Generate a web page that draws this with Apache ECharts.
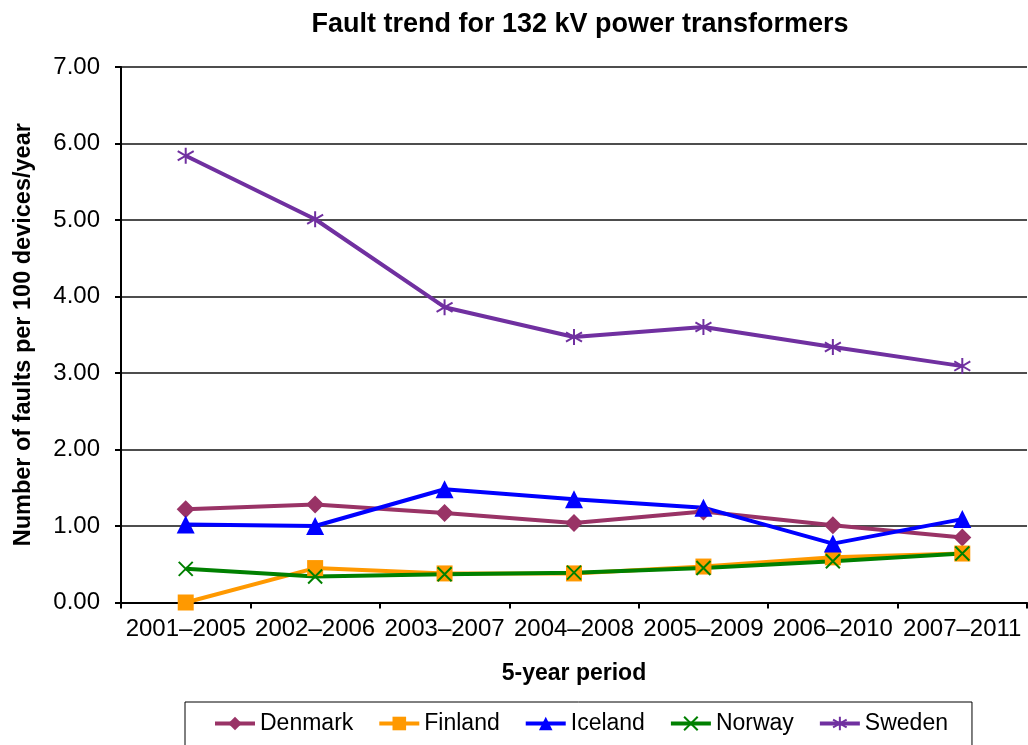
<!DOCTYPE html>
<html>
<head>
<meta charset="utf-8">
<script src="https://cdn.jsdelivr.net/npm/echarts@6/dist/echarts.min.js"></script>
<style>
  html, body { margin: 0; padding: 0; background: #fff; }
  #chart { width: 1028px; height: 745px; }
</style>
</head>
<body>
<div id="chart"></div>
<script>
const periods = ['2001–2005', '2002–2006', '2003–2007', '2004–2008', '2005–2009', '2006–2010', '2007–2011'];
const yTicks = [0, 1, 2, 3, 4, 5, 6, 7];

const denmark = [1.22, 1.28, 1.17, 1.04, 1.19, 1.01, 0.85];
const finland = [0.00, 0.45, 0.38, 0.38, 0.47, 0.59, 0.64];
const iceland = [1.02, 1.00, 1.48, 1.35, 1.24, 0.77, 1.09];
const norway = [0.44, 0.34, 0.37, 0.39, 0.45, 0.54, 0.64];
const sweden = [5.84, 5.01, 3.86, 3.47, 3.60, 3.34, 3.09];

const font = 'Arial, "Liberation Sans", sans-serif';
const xMark = 'path://M0,0L10,10M10,0L0,10';
const starMark = 'path://M5,0L5,10M0,2.1L10,7.9M0,7.9L10,2.1';

function makeLine(name, data, color, symbol, size, stroked) {
  return {
    name: name,
    type: 'line',
    data: data,
    symbol: symbol,
    symbolSize: size,
    showAllSymbol: true,
    lineStyle: { color: color, width: 4 },
    itemStyle: stroked
      ? { color: 'transparent', borderColor: color, borderWidth: 2 }
      : { color: color, borderWidth: 0 },
    emphasis: { disabled: true },
    animation: false,
  };
}

const chart = echarts.init(document.getElementById('chart'));
chart.setOption({
  backgroundColor: '#fff',
  textStyle: { fontFamily: font },
  title: {
    text: 'Fault trend for 132 kV power transformers',
    left: 575,
    textAlign: 'center',
    top: 6,
    textStyle: { fontFamily: font, fontSize: 27, fontWeight: 'bold', color: '#000' },
  },
  legend: {
    left: 185,
    top: 702,
    padding: [10, 24, 30, 28],
    borderColor: '#000',
    borderWidth: 1,
    itemGap: 24,
    itemWidth: 40,
    itemHeight: 17,
    lineStyle: { width: 4 },
    textStyle: { fontFamily: font, fontSize: 23, color: '#000' },
    data: ['Denmark', 'Finland', 'Iceland', 'Norway', 'Sweden'],
  },
  grid: { left: 121, right: 1, top: 67, bottom: 142.5, containLabel: false, outerBoundsMode: 'none' },
  xAxis: {
    type: 'category',
    data: periods,
    boundaryGap: true,
    name: '5-year period',
    nameLocation: 'middle',
    nameGap: 60,
    nameTextStyle: { fontFamily: font, fontSize: 23, fontWeight: 'bold', color: '#000' },
    axisLine: { lineStyle: { color: '#000', width: 2 } },
    axisTick: { show: true, length: 6, lineStyle: { color: '#000', width: 2 } },
    axisLabel: { fontFamily: font, fontSize: 24, color: '#000', margin: 15, interval: 0 },
  },
  yAxis: {
    type: 'value',
    min: yTicks[0],
    max: yTicks[yTicks.length - 1],
    interval: 1,
    name: 'Number of faults per 100 devices/year',
    nameLocation: 'middle',
    nameGap: 85,
    nameTextStyle: { fontFamily: font, fontSize: 23.5, fontWeight: 'bold', color: '#000' },
    axisLine: { show: true, lineStyle: { color: '#000', width: 2 } },
    axisTick: { show: true, length: 6, lineStyle: { color: '#000', width: 2 } },
    axisLabel: {
      fontFamily: font, fontSize: 24, color: '#000', margin: 21,
      formatter: (v) => v.toFixed(2),
    },
    splitLine: { show: true, lineStyle: { color: '#4d4d4d', width: 2 } },
  },
  series: [
    makeLine('Denmark', denmark, '#993366', 'diamond', 18, false),
    makeLine('Finland', finland, '#FF9900', 'rect', 16, false),
    makeLine('Iceland', iceland, '#0000FF', 'triangle', 18, false),
    makeLine('Norway', norway, '#008000', xMark, 14, true),
    makeLine('Sweden', sweden, '#7030A0', starMark, 16, true),
  ],
});
</script>
</body>
</html>
